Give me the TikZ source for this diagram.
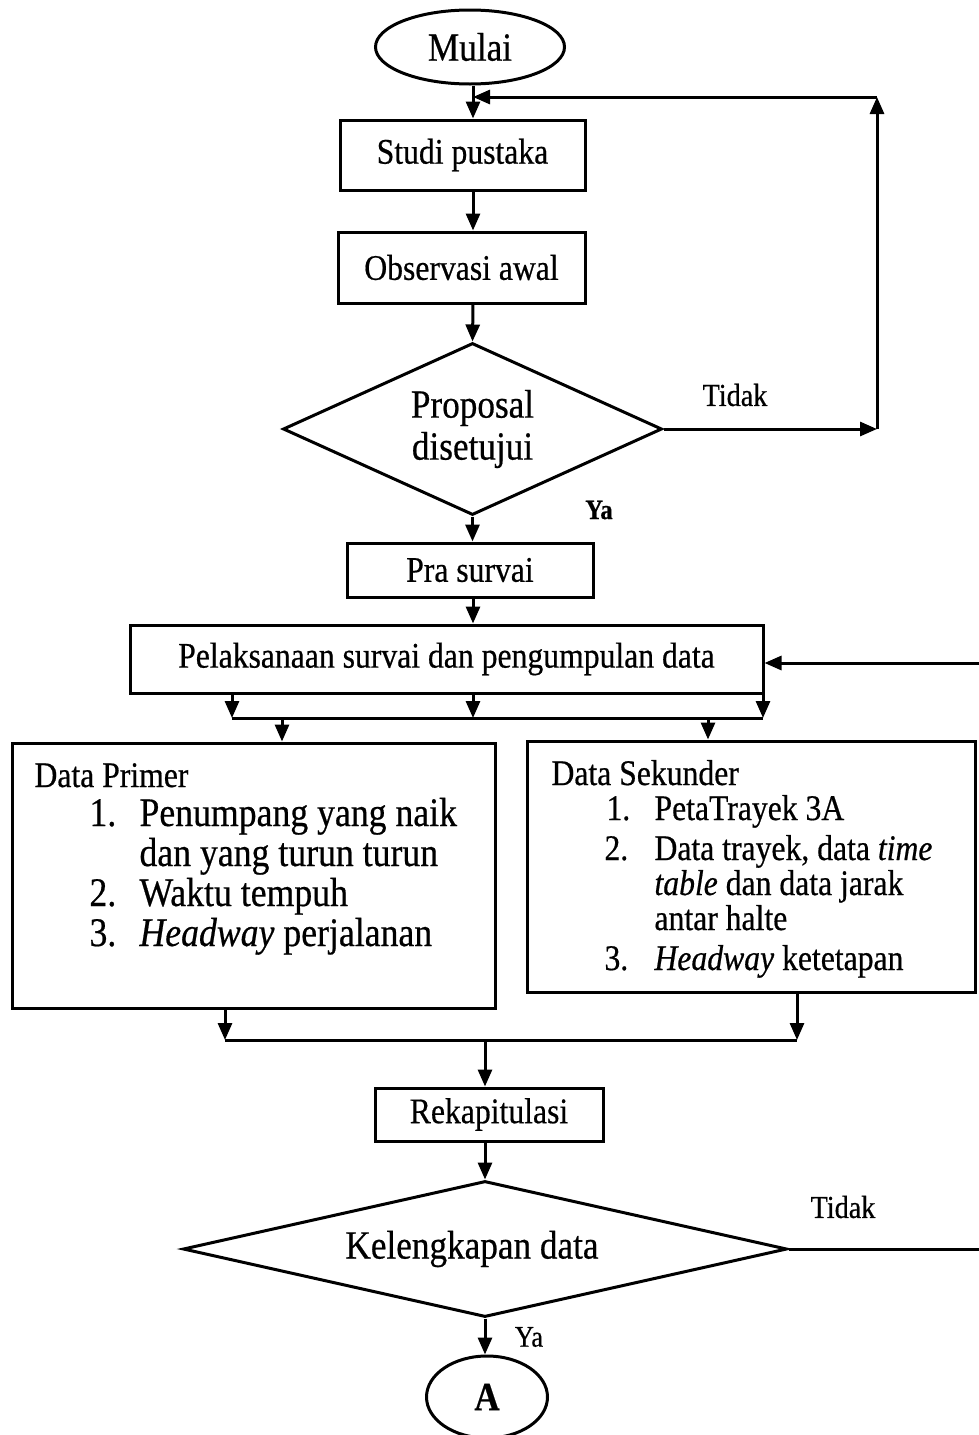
\documentclass[tikz,border=0pt]{standalone}
\usepackage{fontspec}
\setmainfont[FakeStretch=0.88,FakeBold=0.5]{Liberation Serif}
\usetikzlibrary{shapes.geometric,arrows.meta}
\begin{document}
\begin{tikzpicture}[x=0.5pt,y=-0.5pt,
  line width=1.5pt,
  arr/.style={-{Triangle[length=8.5pt,width=7pt]}},
  box/.style={draw,rectangle,inner sep=0pt,font=\fontsize{18}{20}\selectfont},
  dia/.style={draw,diamond,inner sep=0pt,align=center},
  lbl/.style={inner sep=0pt,font=\fontsize{16}{18}\selectfont},
  txt/.style={inner sep=0pt,anchor=base west},
  big/.style={font=\fontsize{20.3}{22}\selectfont},
  med/.style={font=\fontsize{18}{20}\selectfont}]
\useasboundingbox (0,0) rectangle (979,1435);
\clip (0,0) rectangle (979,1435);
% nodes
\node[draw,ellipse,inner sep=0pt,minimum width=94.5pt,minimum height=37pt,font=\fontsize{20}{22}\selectfont] (mulai) at (470,47) {Mulai};
\node[box,minimum width=122.5pt,minimum height=35pt] (studi) at (462.5,155) {Studi pustaka};
\node[box,minimum width=123.5pt,minimum height=35.5pt] (obs) at (461.5,267.5) {Observasi awal};
\node[dia,aspect=2.2,minimum width=189.5pt,minimum height=86pt,font=\fontsize{20}{21}\selectfont] (prop) at (472.5,429) {Proposal\\disetujui};
\node[box,minimum width=123pt,minimum height=27pt] (pra) at (470,570) {Pra survai};
\node[box,minimum width=316.5pt,minimum height=34pt] (pel) at (446.5,659) {Pelaksanaan survai dan pengumpulan data};
\node[draw,rectangle,minimum width=241.5pt,minimum height=132.5pt] (prim) at (253.5,875.5) {};
\node[draw,rectangle,minimum width=224pt,minimum height=125.5pt] (sek) at (751,866.5) {};
\node[box,minimum width=114pt,minimum height=26.5pt] (rek) at (489,1114.5) {Rekapitulasi};
\node[dia,aspect=4.44,minimum width=302pt,minimum height=68pt,font=\fontsize{20}{22}\selectfont] (kel) at (485,1249) {\hspace*{-13pt}Kelengkapan data};
\node[draw,ellipse,inner sep=0pt,minimum width=60.5pt,minimum height=41pt,font=\bfseries\fontsize{20}{22}\selectfont] (A) at (487,1397) {A};
% texts in Data Primer
\node[txt,med] (p0) at (33,787) {Data Primer};
\node[txt,big] (p1n) at (88,826) {1.};
\node[txt,big] (p1) at (138,826) {Penumpang yang naik};
\node[txt,big] (p1b) at (138,866) {dan yang turun turun};
\node[txt,big] (p2n) at (88,906) {2.};
\node[txt,big] (p2) at (138,906) {Waktu tempuh};
\node[txt,big] (p3n) at (88,946) {3.};
\node[txt,big] (p3) at (138,946) {\textit{Headway} perjalanan};
% texts in Data Sekunder
\node[txt,med] (s0) at (550,785) {Data Sekunder};
\node[txt,med] (s1n) at (605,820) {1.};
\node[txt,med] (s1) at (653,820) {PetaTrayek 3A};
\node[txt,med] (s2n) at (603,860) {2.};
\node[txt,med] (s2) at (653,860) {Data trayek, data \textit{time}};
\node[txt,med] (s2b) at (653,895) {\textit{table} dan data jarak};
\node[txt,med] (s2c) at (653,930) {antar halte};
\node[txt,med] (s3n) at (603,970) {3.};
\node[txt,med] (s3) at (653,970) {\textit{Headway} ketetapan};
% labels
\node[lbl] (t1) at (735,395) {Tidak};
\node[lbl,font=\bfseries\fontsize{14}{16}\selectfont] (y1) at (599,510) {Ya};
\node[lbl] (t2) at (843,1207) {Tidak};
\node[lbl,font=\fontsize{15}{17}\selectfont] (y2) at (529,1337) {Ya};
% coordinates
\coordinate (c0) at (473,0);
\coordinate (fb) at (877,97);
\coordinate (rin) at (979,663);
\coordinate (sp1) at (232,718);
\coordinate (sp2) at (473,718);
\coordinate (sp3) at (763,718);
\coordinate (d1) at (282,718);
\coordinate (d2) at (708,718);
\coordinate (m1) at (225,1040);
\coordinate (m2) at (797,1040);
\coordinate (m3) at (485,1040);
\coordinate (kout) at (979,1249);
% connectors
\draw[arr] (c0 |- mulai.south) -- (c0 |- studi.north);
\draw[arr] (c0 |- studi.south) -- (c0 |- obs.north);
\draw[arr] (c0 |- obs.south) -- (prop.north);
\draw[arr] (prop.east) -- (prop.east -| fb);
\draw[arr] (prop.east -| fb) -- (fb);
\draw[arr] (fb) -- (c0 |- fb);
\draw[arr] (prop.south) -- (prop.south |- pra.north);
\draw[arr] (c0 |- pra.south) -- (c0 |- pel.north);
\draw[arr] (rin) -- (pel.east |- rin);
\draw[arr] (pel.south -| sp1) -- (sp1);
\draw[arr] (pel.south -| sp2) -- (sp2);
\draw[arr] (pel.south -| sp3) -- (sp3);
\draw (sp1) -- (sp3);
\draw[arr] (d1) -- (d1 |- prim.north);
\draw[arr] (d2) -- (d2 |- sek.north);
\draw[arr] (m1 |- prim.south) -- (m1);
\draw[arr] (m2 |- sek.south) -- (m2);
\draw (m1) -- (m2);
\draw[arr] (m3) -- (m3 |- rek.north);
\draw[arr] (m3 |- rek.south) -- (kel.north);
\draw (kel.east) -- (kout);
\draw[arr] (kel.south) -- (kel.south |- A.north);
\end{tikzpicture}
\end{document}
